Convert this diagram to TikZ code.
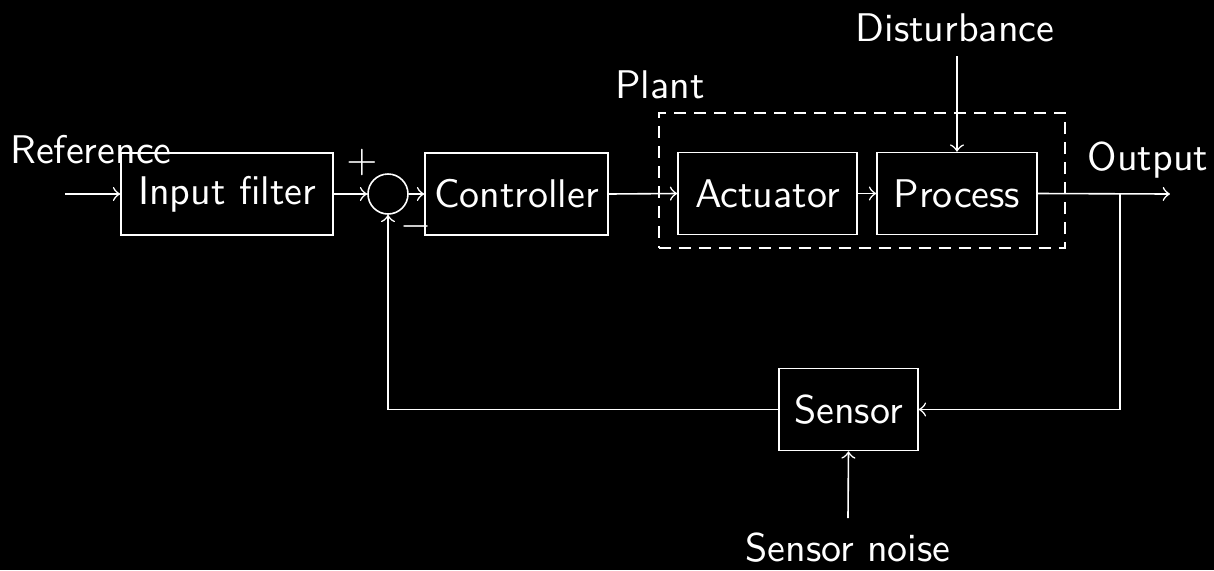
\documentclass[tikz,border=0pt]{standalone}
\usetikzlibrary{positioning}
\begin{document}
\begin{tikzpicture}[x=0.25pt,y=-0.25pt,
  every node/.style={font=\sffamily\fontsize{10}{12}\selectfont, text=white},
  blk/.style={draw=white, line width=0.4pt, inner sep=0pt, minimum height=20.5pt},
  lbl/.style={inner sep=0pt},
  conn/.style={draw=white, line width=0.4pt, ->},
  line/.style={draw=white, line width=0.4pt}]
\fill[black] (0,0) rectangle (1214,570);
\useasboundingbox (0,0) rectangle (1214,570);
% blocks
\node[blk, minimum width=53pt] (filt) at (227,194) {Input filter};
\node[draw=white, circle, minimum size=10pt, inner sep=0pt, line width=0.4pt] (sum) at (388,194) {};
\node[blk, minimum width=45.75pt] (ctrl) at (516.5,194) {Controller};
\node[blk, minimum width=44.75pt] (act) at (767.5,193.5) {Actuator};
\node[blk, minimum width=40pt] (proc) at (957,193.5) {Process};
\node[blk, minimum width=34.75pt] (sens) at (848.5,409.5) {Sensor};
% dashed plant box
\node[draw=white, dash pattern=on 3pt off 2pt, line width=0.4pt, minimum width=101.5pt, minimum height=33.75pt, inner sep=0pt] (plant) at (862,180.5) {};
% labels
\node[lbl] (ref) at (91,150) {Reference};
\node[lbl] (plab) at (660,85) {Plant};
\node[lbl] (dist) at (955,28) {Disturbance};
\node[lbl] (outl) at (1148,160) {Output};
\node[lbl] (noise) at (848,548) {Sensor noise};
\node[lbl] (plus) at (362,162) {$+$};
\node[lbl] (minus) at (416,226) {$-$};
% coordinates
\coordinate (in) at (65,194);
\coordinate (out) at (1170,194);
\coordinate (br) at (1120,194);
\coordinate (dtop) at (957,56);
\coordinate (ntop) at (848,518);
% connectors
\draw[conn] (in) -- (filt.west);
\draw[conn] (filt.east) -- (sum.west);
\draw[conn] (sum.east) -- (ctrl.west);
\draw[conn] (ctrl.east) -- (act.west);
\draw[conn] (act.east) -- (proc.west);
\draw[conn] (proc.east) -- (out);
\draw[conn] (dtop) -- (proc.north);
\draw[conn] (br) |- (sens.east);
\draw[conn] (sens.west) -| (sum.south);
\draw[conn] (ntop) -- (sens.south);
\end{tikzpicture}
\end{document}
